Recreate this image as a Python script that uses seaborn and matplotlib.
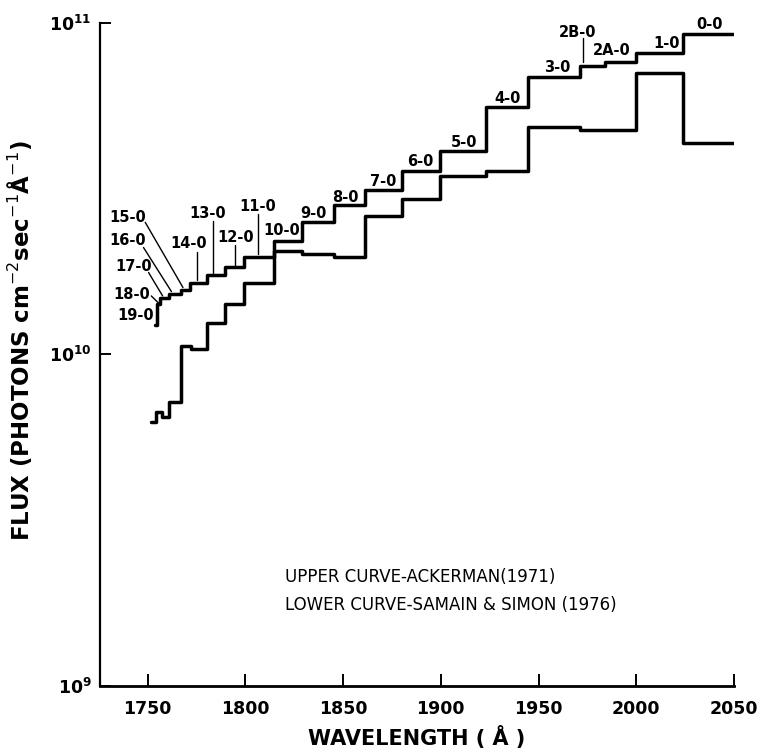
import matplotlib
matplotlib.use("Agg")
import matplotlib.pyplot as plt
import seaborn as sns
import pandas as pd

# Schumann-Runge band intervals (Angstrom) and solar flux, Ackerman (1971)
upper_bands = ["19-0", "18-0", "17-0", "16-0", "15-0", "14-0", "13-0", "12-0",
               "11-0", "10-0", "9-0", "8-0", "7-0", "6-0", "5-0", "4-0", "3-0",
               "2B-0", "2A-0", "1-0", "0-0"]
upper_edges = [1753.8, 1754.8, 1756.5, 1760.8, 1767.3, 1771.9, 1780.4, 1789.8,
               1799.2, 1814.6, 1829.1, 1845.4, 1861.3, 1880.1, 1899.6, 1923.0,
               1944.5, 1971.0, 1983.8, 1999.7, 2024.0, 2049.5]
upper_flux = [1.23e10, 1.42e10, 1.48e10, 1.52e10, 1.56e10, 1.64e10, 1.74e10,
              1.83e10, 1.97e10, 2.20e10, 2.50e10, 2.81e10, 3.13e10, 3.58e10,
              4.10e10, 5.55e10, 6.84e10, 7.40e10, 7.62e10, 8.08e10, 9.22e10]

# Samain & Simon (1976)
lower_edges = [1751.7, 1754.3, 1757.3, 1760.8, 1767.0, 1772.3, 1780.4, 1789.8,
               1799.2, 1814.6, 1829.1, 1845.4, 1861.3, 1880.1, 1899.6, 1923.0,
               1944.5, 1971.0, 1999.7, 2024.0, 2049.5]
lower_flux = [6.24e9, 6.70e9, 6.47e9, 7.18e9, 1.06e10, 1.035e10, 1.24e10,
              1.42e10, 1.64e10, 2.05e10, 2.01e10, 1.97e10, 2.62e10, 2.94e10,
              3.46e10, 3.58e10, 4.84e10, 4.76e10, 7.07e10, 4.35e10]

x_ticks = [1750, 1800, 1850, 1900, 1950, 2000, 2050]


def step_frame(edges, flux, name):
    # repeat the last level so the final bin reaches its right edge
    return pd.DataFrame({"wavelength": edges,
                         "flux": list(flux) + [flux[-1]],
                         "source": name})


df = pd.concat([step_frame(upper_edges, upper_flux, "upper"),
                step_frame(lower_edges, lower_flux, "lower")],
               ignore_index=True)

sns.set_theme(style="ticks")
plt.rcParams["font.family"] = ["DejaVu Sans"]

fig = plt.figure(figsize=(7.64, 7.55), dpi=100)
ax = fig.add_axes([0.131, 0.0914, 0.8297, 0.8786])

sns.lineplot(data=df, x="wavelength", y="flux", units="source",
             estimator=None, sort=False, drawstyle="steps-post",
             color="black", linewidth=2.5, legend=False, ax=ax)

ax.set_yscale("log")
ax.set_ylim(1e9, 1e11)
ax.set_xlim(1725.7, 2050)
ax.set_xticks(x_ticks)
ax.set_xticklabels([str(t) for t in x_ticks])
ax.minorticks_off()

for side in ("top", "right"):
    ax.spines[side].set_visible(False)
ax.spines["left"].set_linewidth(1.6)
ax.spines["bottom"].set_linewidth(2.0)
ax.spines["left"].set_color("black")
ax.spines["bottom"].set_color("black")

ax.tick_params(axis="x", direction="in", length=9, width=1.4,
               labelsize=12.5, pad=10, colors="black")
ax.tick_params(axis="y", direction="in", length=8, width=1.4,
               labelsize=12.5, pad=6, colors="black")
for lbl in ax.get_xticklabels() + ax.get_yticklabels():
    lbl.set_fontweight("bold")

ax.set_xlabel("WAVELENGTH ( Å )", fontsize=15, fontweight="bold",
              labelpad=6, color="black")
ax.set_ylabel("FLUX (PHOTONS cm$^{-2}$sec$^{-1}$Å$^{-1}$)", fontsize=16.5,
              fontweight="bold", labelpad=6, color="black")
ax.yaxis.set_label_coords(-0.105, 0.52)

# band identifications
band_label_pos = {
    "19-0": (1743.7, 1.31e10), "18-0": (1742.0, 1.52e10),
    "17-0": (1742.8, 1.84e10), "16-0": (1739.9, 2.20e10),
    "15-0": (1739.9, 2.58e10), "14-0": (1771.0, 2.16e10),
    "13-0": (1780.8, 2.66e10), "12-0": (1795.0, 2.25e10),
    "11-0": (1806.1, 2.79e10), "10-0": (1818.5, 2.36e10),
    "9-0": (1835.1, 2.66e10), "8-0": (1851.4, 2.97e10),
    "7-0": (1870.5, 3.32e10), "6-0": (1889.5, 3.82e10),
    "5-0": (1912.1, 4.36e10), "4-0": (1934.1, 5.92e10),
    "3-0": (1959.7, 7.30e10), "2B-0": (1970.0, 9.37e10),
    "2A-0": (1987.4, 8.26e10), "1-0": (2015.6, 8.68e10),
    "0-0": (2037.7, 9.84e10),
}
for band in upper_bands:
    bx, by = band_label_pos[band]
    ax.text(bx, by, band, ha="center", va="center", fontsize=10.5,
            fontweight="bold", color="black", clip_on=False)

# leader lines from crowded labels to their bands
leaders = [
    ((1748.8, 2.50e10), (1768.1, 1.59e10)),
    ((1747.9, 2.10e10), (1762.2, 1.546e10)),
    ((1750.5, 1.765e10), (1757.7, 1.50e10)),
    ((1751.9, 1.50e10), (1756.0, 1.42e10)),
    ((1775.3, 2.03e10), (1775.3, 1.674e10)),
    ((1783.5, 2.53e10), (1783.5, 1.753e10)),
    ((1794.6, 2.13e10), (1794.6, 1.85e10)),
    ((1806.6, 2.65e10), (1806.6, 2.00e10)),
    ((1972.7, 8.97e10), (1972.7, 7.62e10)),
]
for (x0, y0), (x1, y1) in leaders:
    ax.plot([x0, x1], [y0, y1], color="black", linewidth=1.0)

ax.text(0.292, 0.164, "UPPER CURVE-ACKERMAN(1971)", transform=ax.transAxes,
        fontsize=12, va="center", ha="left", color="black")
ax.text(0.292, 0.122, "LOWER CURVE-SAMAIN & SIMON (1976)",
        transform=ax.transAxes, fontsize=12, va="center", ha="left",
        color="black")

fig.savefig("out.png", dpi=100, facecolor="white")
